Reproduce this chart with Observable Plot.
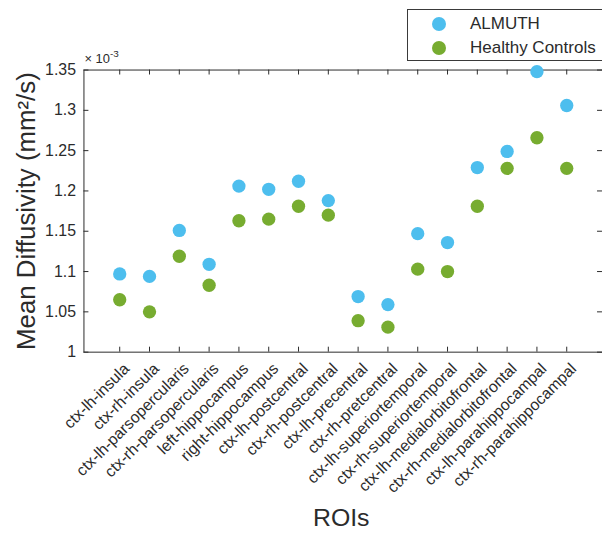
<!DOCTYPE html>
<html>
<head>
<meta charset="utf-8">
<script src="https://cdn.jsdelivr.net/npm/d3@7"></script>
<script src="https://cdn.jsdelivr.net/npm/@observablehq/plot@0.6"></script>
<style>
  html, body { margin: 0; padding: 0; background: #fff; overflow: hidden; }
  #chart { position: relative; width: 602px; height: 534px; overflow: hidden;
           font-family: "Liberation Sans", Arial, Helvetica, sans-serif; color: #2b2b2b; }
  #chart svg { position: absolute; left: 0; top: 0; }
  #legend { position: absolute; left: 407px; top: 9px; width: 220px; height: 52px;
            box-sizing: border-box; border: 1px solid #3a3a3a; background: #fff; z-index: 2; }
  #legend .item { position: absolute; left: 0; height: 20px; display: flex; align-items: center;
                  font-size: 17px; color: #2b2b2b; white-space: nowrap; }
  #legend .sw { position: absolute; left: 24px; width: 14px; height: 14px; border-radius: 50%; }
  #legend .lab { position: absolute; left: 62px; }
</style>
</head>
<body>
<div id="chart"></div>
<script>
// Regions of interest, in plotting order
const rois = [
  "ctx-lh-insula", "ctx-rh-insula", "ctx-lh-parsopercularis", "ctx-rh-parsopercularis",
  "left-hippocampus", "right-hippocampus", "ctx-lh-postcentral", "ctx-rh-postcentral",
  "ctx-lh-precentral", "ctx-rh-pretcentral", "ctx-lh-superiortemporal", "ctx-rh-superiortemporal",
  "ctx-lh-medialorbitofrontal", "ctx-rh-medialorbitofrontal", "ctx-lh-parahippocampal", "ctx-rh-parahippocampal"
];

// Mean diffusivity, in units of 10^-3 mm^2/s
const almuth = [1.097, 1.094, 1.151, 1.109, 1.206, 1.202, 1.212, 1.188,
                1.069, 1.059, 1.147, 1.136, 1.229, 1.249, 1.348, 1.306];
const controls = [1.065, 1.050, 1.119, 1.083, 1.163, 1.165, 1.181, 1.170,
                  1.039, 1.031, 1.103, 1.100, 1.181, 1.228, 1.266, 1.228];

const groups = ["ALMUTH", "Healthy Controls"];
const groupColors = ["#4DBEEE", "#77AC30"];

const yTicks = [1, 1.05, 1.1, 1.15, 1.2, 1.25, 1.3, 1.35];
const yTickLabels = ["1", "1.05", "1.1", "1.15", "1.2", "1.25", "1.3", "1.35"];

const rows = rois.flatMap((roi, i) => [
  {roi, group: groups[0], md: almuth[i]},
  {roi, group: groups[1], md: controls[i]}
]);

const ink = "#2b2b2b";

// plot frame geometry
const W = 606, H = 534, mL = 84, mR = 0, mT = 70, mB = 180;
const frameW = W - mL - mR, frameH = H - mT - mB;
const tickLen = 5;

const plot = Plot.plot({
  width: W,
  height: H,
  marginLeft: mL,
  marginRight: mR,
  marginTop: mT,
  marginBottom: mB,
  style: {fontFamily: '"Liberation Sans", Arial, Helvetica, sans-serif', color: ink, background: "transparent"},
  x: {type: "point", domain: rois, padding: 1, axis: null},
  y: {domain: [1, 1.35], axis: null},
  color: {domain: groups, range: groupColors},
  marks: [
    Plot.frame({stroke: ink, strokeWidth: 1}),
    // inward ticks on all four sides
    Plot.tickX(rois, {x: (d) => d, insetTop: frameH - tickLen, stroke: ink}),
    Plot.tickX(rois, {x: (d) => d, insetBottom: frameH - tickLen, stroke: ink}),
    Plot.tickY(yTicks, {y: (d) => d, insetRight: frameW - tickLen, stroke: ink}),
    Plot.tickY(yTicks, {y: (d) => d, insetLeft: frameW - tickLen, stroke: ink}),
    // y tick labels
    Plot.axisY({anchor: "left", ticks: yTicks, tickSize: 0, tickPadding: 8,
                tickFormat: (d) => yTickLabels[yTicks.indexOf(d)], label: null,
                fontSize: 16, fill: ink}),
    // rotated category labels
    Plot.text(rois, {x: (d) => d, frameAnchor: "bottom", text: (d) => d, rotate: -45,
                     textAnchor: "end", lineAnchor: "middle", dx: 7, dy: 14, fontSize: 16, fill: ink}),
    // axis titles
    Plot.text(["ROIs"], {frameAnchor: "bottom", text: (d) => d, lineAnchor: "bottom", textAnchor: "middle",
                         dx: -2, dy: 175, fontSize: 25, fill: ink}),
    Plot.text(["Mean Diffusivity (mm\u00B2/s)"], {frameAnchor: "left", text: (d) => d, rotate: -90,
                         textAnchor: "middle", lineAnchor: "bottom", dx: -49, dy: 0, fontSize: 26, fill: ink}),
    // measurements
    Plot.dot(rows, {x: "roi", y: "md", fill: "group", r: 6.7, stroke: null})
  ]
});

document.getElementById("chart").appendChild(plot);

// exponent multiplier above the y axis
const svg = d3.select(plot);
const mult = svg.append("text")
  .attr("x", 85).attr("y", 63)
  .attr("fill", ink)
  .attr("text-anchor", "start")
  .style("font-size", "13px")
  .style("font-family", '"Liberation Sans", Arial, Helvetica, sans-serif');
mult.append("tspan").text("\u00D7 10");
mult.append("tspan").attr("dy", -6).style("font-size", "10px").text("-3");

// legend
const legend = d3.select("#chart").append("div").attr("id", "legend");
groups.forEach((g, i) => {
  const item = legend.append("div").attr("class", "item").style("top", `${4 + i * 24}px`);
  item.append("span").attr("class", "sw").style("background", groupColors[i]);
  item.append("span").attr("class", "lab").text(g);
});
</script>
</body>
</html>
